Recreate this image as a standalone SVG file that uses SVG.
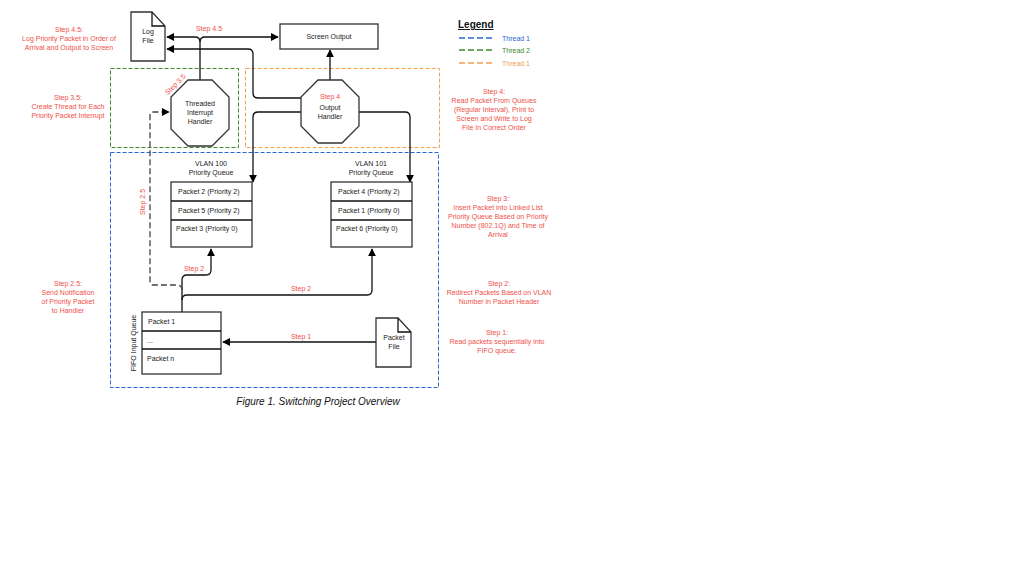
<svg xmlns="http://www.w3.org/2000/svg" width="1024" height="576" viewBox="0 0 1024 576">
<defs>
<marker id="a" viewBox="0 0 10 10" refX="9" refY="5" markerWidth="6" markerHeight="6" orient="auto-start-reverse"><path d="M0,0L10,5L0,10z" fill="#000"/></marker>
<style>
text{font-family:"Liberation Sans",Arial,sans-serif;font-size:7px;fill:#222}
.r{fill:#f0504a;text-anchor:middle}
.c{text-anchor:middle}
.n{fill:#fff;stroke:#333;stroke-width:1.3}
.l{fill:none;stroke:#111;stroke-width:1.3}
.d{fill:none;stroke:#444;stroke-width:1.3;stroke-dasharray:6,3}
</style>
</defs>
<rect width="1024" height="576" fill="#fff"/>
<g id="boxes">
<rect x="110.5" y="68.5" width="128" height="79" fill="none" stroke="#3a8a2a" stroke-dasharray="4,2"/>
<rect x="245.5" y="68.5" width="194" height="79" fill="none" stroke="#f0a050" stroke-dasharray="4,2"/>
<rect x="110.5" y="152.5" width="328" height="235" fill="none" stroke="#2a66d0" stroke-dasharray="4,2"/>
</g>
<g id="connectors">
<path class="l" d="M200,80V42q0,-5 -5,-5H167" marker-end="url(#a)"/>
<path class="l" d="M200,42q0,-5 5,-5H278" marker-end="url(#a)"/>
<path class="l" d="M302,98H258q-5,0 -5,-5V54q0,-5 -5,-5H167" marker-end="url(#a)"/>
<path class="l" d="M330,80V50" marker-end="url(#a)"/>
<path class="l" d="M302,112H258q-5,0 -5,5V182" marker-end="url(#a)"/>
<path class="l" d="M358,112H405q5,0 5,5V182" marker-end="url(#a)"/>
<path class="l" d="M182,312V280q0,-5 5,-5H206q5,0 5,-5V249" marker-end="url(#a)"/>
<path class="l" d="M182,300q0,-5 5,-5H367q5,0 5,-5V249" marker-end="url(#a)"/>
<path class="d" d="M182,290q0,-5 -5,-5H154q-4,0 -4,-4V116q0,-4 4,-4H169" marker-end="url(#a)"/>
<path class="l" d="M376,342H223" marker-end="url(#a)"/>
</g>
<g id="logfile"><path class="n" d="M131,12H152L165,26V61H131z"/><path class="l" d="M152,12V26H165"/><text class="c" x="148" y="34">Log</text><text class="c" x="148" y="43">File</text></g>
<g id="screen"><rect class="n" x="280" y="24" width="98" height="25"/><text class="c" x="329" y="39">Screen Output</text></g>
<g id="tih"><polygon class="n" points="188,80 212,80 229,97 229,129 212,146 188,146 171,129 171,97"/><text class="c" x="200" y="106">Threaded</text><text class="c" x="200" y="115">Interrupt</text><text class="c" x="200" y="124">Handler</text></g>
<g id="oh"><polygon class="n" points="318,80 342,80 359,97 359,126 342,143 318,143 301,126 301,97"/><text class="r" x="330" y="99">Step 4</text><text class="c" x="330" y="110">Output</text><text class="c" x="330" y="119">Handler</text></g>
<g id="q100"><text class="c" x="211" y="166">VLAN 100</text><text class="c" x="211" y="175">Priority Queue</text><rect class="n" x="171" y="182" width="81" height="65"/><path class="l" d="M171,201H252M171,220H252"/><text x="178" y="194">Packet 2 (Priority 2)</text><text x="178" y="213">Packet 5 (Priority 2)</text><text x="176" y="231">Packet 3 (Priority 0)</text></g>
<g id="q101"><text class="c" x="371" y="166">VLAN 101</text><text class="c" x="371" y="175">Priority Queue</text><rect class="n" x="331" y="182" width="81" height="65"/><path class="l" d="M331,201H412M331,220H412"/><text x="338" y="194">Packet 4 (Priority 2)</text><text x="338" y="213">Packet 1 (Priority 0)</text><text x="336" y="231">Packet 6 (Priority 0)</text></g>
<g id="fifo"><rect class="n" x="142" y="312" width="79" height="62"/><path class="l" d="M142,331H221M142,349H221"/><text x="148" y="324">Packet 1</text><text x="147" y="343">...</text><text x="147" y="361">Packet n</text><text class="c" transform="translate(136,343) rotate(-90)">FIFO Input Queue</text></g>
<g id="packetfile"><path class="n" d="M376,318H398L411,332V367H376z"/><path class="l" d="M398,318V332H411"/><text class="c" x="394" y="340">Packet</text><text class="c" x="394" y="349">File</text></g>
<g id="labels">
<text class="r" x="209" y="31">Step 4.5</text>
<text class="r" transform="translate(177,86) rotate(-45)">Step 3.5</text>
<text class="r" transform="translate(145,202) rotate(-90)">Step 2.5</text>
<text class="r" x="194" y="271">Step 2</text>
<text class="r" x="301" y="291">Step 2</text>
<text class="r" x="301" y="339">Step 1</text>
<text class="r" x="69" y="32">Step 4.5:</text><text class="r" x="69" y="41">Log Priority Packet in Order of</text><text class="r" x="69" y="50">Arrival and Output to Screen</text>
<text class="r" x="68" y="100">Step 3.5:</text><text class="r" x="68" y="109">Create Thread for Each</text><text class="r" x="68" y="118">Priority Packet Interrupt</text>
<text class="r" x="68" y="286">Step 2.5:</text><text class="r" x="68" y="295">Send Notification</text><text class="r" x="68" y="304">of Priority Packet</text><text class="r" x="68" y="313">to Handler</text>
<text class="r" x="494" y="94">Step 4:</text><text class="r" x="494" y="103">Read Packet From Queues</text><text class="r" x="494" y="112">(Regular Interval), Print to</text><text class="r" x="494" y="121">Screen and Write to Log</text><text class="r" x="494" y="130">File In Correct Order</text>
<text class="r" x="498" y="201">Step 3:</text><text class="r" x="498" y="210">Insert Packet into Linked List</text><text class="r" x="498" y="219">Priority Queue Based on Priority</text><text class="r" x="498" y="228">Number (802.1Q) and Time of</text><text class="r" x="498" y="237">Arrival</text>
<text class="r" x="499" y="286">Step 2:</text><text class="r" x="499" y="295">Redirect Packets Based on VLAN</text><text class="r" x="499" y="304">Number in Packet Header</text>
<text class="r" x="497" y="335">Step 1:</text><text class="r" x="497" y="344">Read packets sequentially into</text><text class="r" x="497" y="353">FIFO queue.</text>
</g>
<g id="legend">
<text x="458" y="28" style="font-size:10px;font-weight:bold;text-decoration:underline;fill:#111">Legend</text>
<path d="M459,38H493" stroke="#2a66d0" stroke-width="1.3" stroke-dasharray="6,3"/><text x="502" y="41" style="fill:#2a66d0">Thread 1</text>
<path d="M459,50H493" stroke="#3a8a2a" stroke-width="1.3" stroke-dasharray="6,3"/><text x="502" y="53" style="fill:#3a8a2a">Thread 2</text>
<path d="M459,63H493" stroke="#f0a050" stroke-width="1.3" stroke-dasharray="6,3"/><text x="502" y="66" style="fill:#f0a050">Thread 1</text>
</g>
<text class="c" x="318" y="405" style="font-size:10px;font-style:italic;fill:#111">Figure 1. Switching Project Overview</text>
</svg>
